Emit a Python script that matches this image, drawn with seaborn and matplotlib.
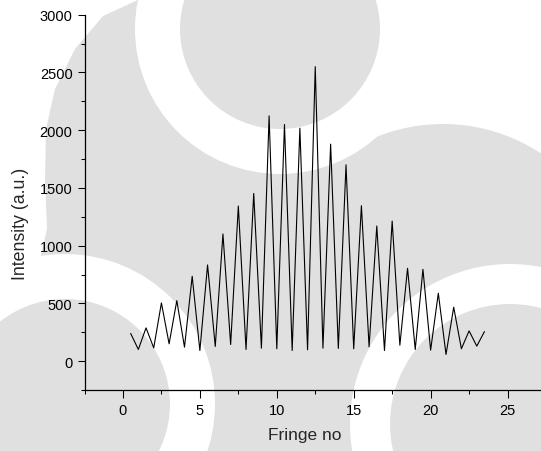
import matplotlib
matplotlib.use("Agg")
import matplotlib.pyplot as plt
from matplotlib.patches import Circle, Polygon
from matplotlib.ticker import MultipleLocator
import pandas as pd
import seaborn as sns

# Measured fringe intensities (maxima at half-integer positions, minima at integers)
fringe_no = [0.5, 1.0, 1.5, 2.0, 2.5, 3.0, 3.5, 4.0, 4.5, 5.0, 5.5, 6.0,
             6.5, 7.0, 7.5, 8.0, 8.5, 9.0, 9.5, 10.0, 10.5, 11.0, 11.5, 12.0,
             12.5, 13.0, 13.5, 14.0, 14.5, 15.0, 15.5, 16.0, 16.5, 17.0, 17.5, 18.0,
             18.5, 19.0, 19.5, 20.0, 20.5, 21.0, 21.5, 22.0, 22.5, 23.0, 23.5]
intensity = [240, 101, 288, 115, 504, 150, 524, 121, 735, 92, 833, 127,
             1101, 144, 1343, 101, 1452, 112, 2124, 107, 2049, 92, 2017, 98,
             2550, 112, 1879, 110, 1700, 107, 1346, 124, 1170, 92, 1213, 138,
             804, 101, 795, 95, 588, 58, 467, 107, 262, 130, 256]

x_ticks = [0, 5, 10, 15, 20, 25]
y_ticks = [0, 500, 1000, 1500, 2000, 2500, 3000]

df = pd.DataFrame({"Fringe no": fringe_no, "Intensity (a.u.)": intensity})

sns.set_style("ticks")
plt.rcParams["font.family"] = ["Liberation Sans", "DejaVu Sans"]

W, H = 541, 452
GRAY = "#e0e0e0"
fig = plt.figure(figsize=(W / 100, H / 100), dpi=100)
fig.patch.set_facecolor(GRAY)


def inch(x, y):
    return (x / 100, (H - y) / 100)


def disc(cx, cy, r, color, z):
    fig.add_artist(Circle(inch(cx, cy), r / 100, transform=fig.dpi_scale_trans,
                          facecolor=color, edgecolor="none", zorder=z))


# faint background ornament of rings and discs
corner = [(0, 0), (140, 0), (103, 17), (75, 50), (55, 90), (46, 130),
          (45, 180), (47, 230), (40, 260), (0, 275)]
fig.add_artist(Polygon([inch(x, y) for x, y in corner], closed=True,
                       transform=fig.dpi_scale_trans, facecolor="white",
                       edgecolor="none", zorder=-10))
disc(545, 10, 215, "white", -10)
disc(443, 303, 178, GRAY, -9)
disc(280, 30, 145, "white", -8)
disc(280, 30, 100, GRAY, -7)
disc(510, 425, 160, "white", -8)
disc(510, 425, 120, GRAY, -7)
disc(65, 405, 150, "white", -8)
disc(65, 405, 105, GRAY, -7)

# axes box in pixels: left 84.5, right 546, top 15.7, bottom 391
ax = fig.add_axes([84.5 / W, (H - 391) / H, (546 - 84.5) / W, (391 - 15.7) / H])
ax.set_facecolor("none")

sns.lineplot(data=df, x="Fringe no", y="Intensity (a.u.)", ax=ax,
             color="black", linewidth=0.8, sort=False)

ax.set_xlim(-2.5, 27.5)
ax.set_ylim(-250, 3000)
ax.set_xticks(x_ticks)
ax.set_yticks(y_ticks)
ax.xaxis.set_minor_locator(MultipleLocator(2.5))
ax.yaxis.set_minor_locator(MultipleLocator(250))

sns.despine(ax=ax)
for side in ("left", "bottom"):
    ax.spines[side].set_linewidth(0.9)
    ax.spines[side].set_color("black")

ax.tick_params(axis="both", which="major", direction="out", length=5.4,
               width=0.75, colors="black", labelsize=10.5)
ax.tick_params(axis="both", which="minor", direction="out", length=2.9,
               width=0.75, colors="black")
ax.tick_params(axis="x", which="major", pad=4.2)
ax.tick_params(axis="y", which="major", pad=3.2)

ax.set_xlabel("Fringe no", fontsize=12.5)
ax.set_ylabel("Intensity (a.u.)", fontsize=12.8)
ax.xaxis.set_label_coords((305 - 84.5) / 461.5, (391 - 428) / 375.3)
ax.yaxis.set_label_coords((29 - 84.5) / 461.5, (391 - 224) / 375.3)

fig.savefig("out.png", dpi=100, facecolor=fig.get_facecolor())
